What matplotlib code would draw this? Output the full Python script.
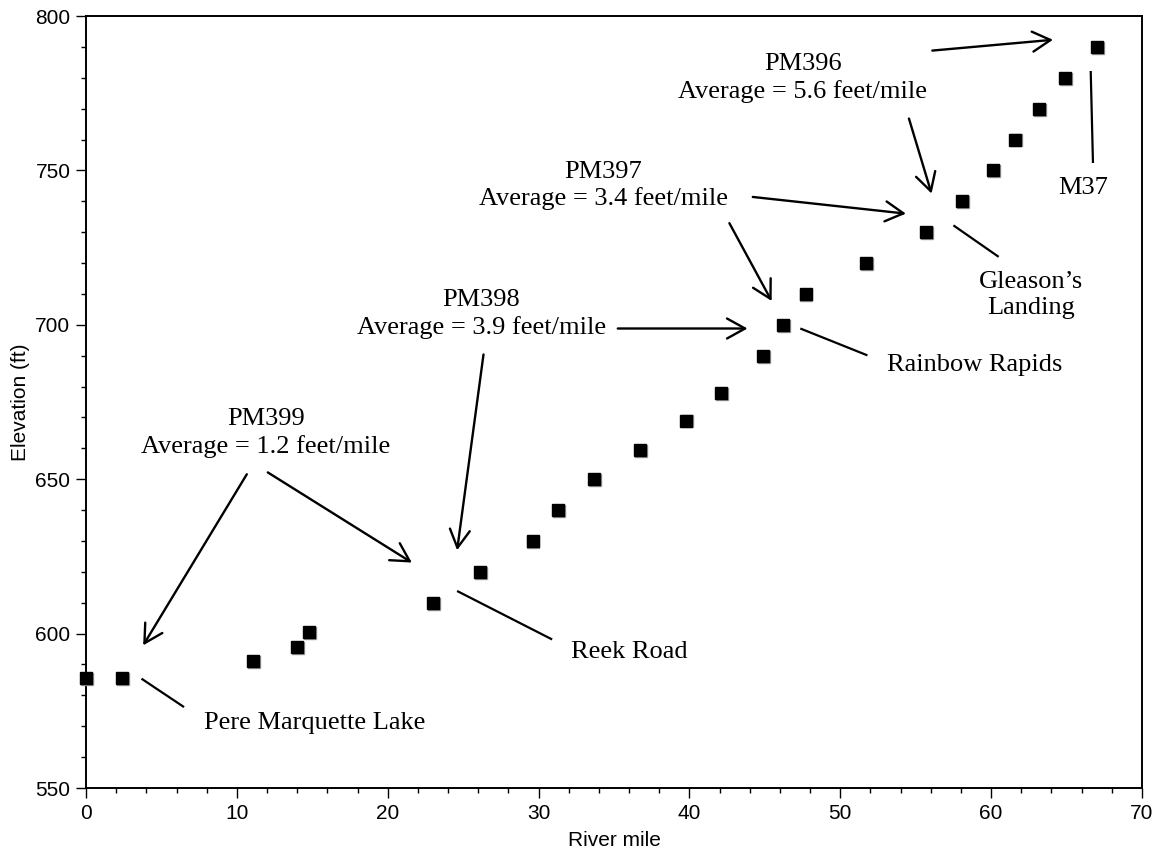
import matplotlib
matplotlib.use("Agg")
import matplotlib.pyplot as plt
from matplotlib.ticker import MultipleLocator
import matplotlib.transforms as mtransforms

# ---- data ----
river_mile = [0, 2.4, 11.1, 14.0, 14.8, 23.0, 26.1, 29.6, 31.3, 33.7, 36.7, 39.8,
              42.1, 44.9, 46.2, 47.7, 51.7, 55.7, 58.1, 60.1, 61.6, 63.2, 64.9, 67.0]
elevation = [585.5, 585.5, 591, 595.5, 600.5, 610, 620, 630, 640, 650, 659.5, 669,
             678, 690, 700, 710, 720, 730, 740, 750, 760, 770, 780, 790]

# segment annotations: text, text position, arrow start/end points
seg_texts = ["PM399\nAverage = 1.2 feet/mile",
             "PM398\nAverage = 3.9 feet/mile",
             "PM397\nAverage = 3.4 feet/mile",
             "PM396\nAverage = 5.6 feet/mile"]
seg_text_xy = [(11.92, 665.0), (26.2, 703.6), (34.3, 745.1), (47.5, 780.0)]
seg_arrows = [
    [((10.66, 651.6), (3.79, 596.2)), ((12.05, 652.2), (21.6, 623.0))],
    [((26.35, 690.4), (24.6, 627.0)), ((35.25, 698.8), (43.85, 698.8))],
    [((42.65, 732.9), (45.45, 707.7)), ((44.2, 741.4), (54.35, 736.0))],
    [((54.55, 766.8), (56.05, 742.5)), ((56.1, 788.8), (64.1, 792.3))],
]

site_names = ["Pere Marquette Lake", "Reek Road", "Rainbow Rapids",
              "Gleason\u2019s\nLanding", "M37"]
site_text_xy = [(15.14, 571.0), (36.03, 594.0), (53.07, 686.9), (62.65, 709.6), (66.13, 744.4)]
site_text_ha = ["center", "center", "left", "center", "center"]
site_leaders = [((3.68, 585.4), (6.5, 576.2)),
                ((24.6, 613.8), (30.9, 598.1)),
                ((47.35, 698.8), (51.8, 690.1)),
                ((57.5, 732.2), (60.5, 722.0)),
                ((66.6, 782.2), (66.75, 752.4))]

x_ticks = [0, 10, 20, 30, 40, 50, 60, 70]
y_ticks = [550, 600, 650, 700, 750, 800]

# ---- figure ----
fig = plt.figure(figsize=(11.62, 8.61), dpi=100)
ax = fig.add_axes([86 / 1162, 1 - 788 / 861, (1142 - 86) / 1162, (788 - 16) / 861])

sans = "Liberation Sans"
serif = "Liberation Serif"

# subtle shadow markers (offset ~1 px to lower right)
shadow = ax.transData + mtransforms.ScaledTranslation(0.9 / 100, -0.9 / 100, fig.dpi_scale_trans)
ax.plot(river_mile, elevation, linestyle="none", marker="s", ms=9.2, color="#9a9a9a",
        mec="#9a9a9a", transform=shadow, zorder=3, clip_on=False)
ax.plot(river_mile, elevation, linestyle="none", marker="s", ms=9.2, color="black",
        mec="black", zorder=4, clip_on=False)

ax.set_xlim(0, 70)
ax.set_ylim(550, 800)
ax.set_xticks(x_ticks)
ax.set_yticks(y_ticks)
ax.xaxis.set_minor_locator(MultipleLocator(2))
ax.yaxis.set_minor_locator(MultipleLocator(10))
ax.tick_params(which="major", direction="out", length=7.2, width=1.0, labelsize=15, pad=4)
ax.tick_params(which="minor", direction="out", length=3.6, width=1.0)
ax.tick_params(top=False, right=False, which="both")
for lab in ax.get_xticklabels() + ax.get_yticklabels():
    lab.set_fontfamily(sans)
for sp in ax.spines.values():
    sp.set_linewidth(1.4)

ax.set_xlabel("River mile", fontsize=15, fontfamily=sans, labelpad=6)
ax.set_ylabel("Elevation (ft)", fontsize=15, fontfamily=sans, labelpad=4)

arrowstyle = "->,head_length=0.65,head_width=0.36"
for txt, (tx, ty), arrows in zip(seg_texts, seg_text_xy, seg_arrows):
    ax.text(tx, ty, txt, ha="center", va="center", multialignment="center",
            fontsize=19, fontfamily=serif, linespacing=1.27, zorder=5)
    for (sx, sy), (ex, ey) in arrows:
        ax.annotate("", xy=(ex, ey), xytext=(sx, sy),
                    arrowprops=dict(arrowstyle=arrowstyle, lw=1.7, color="black",
                                    shrinkA=0, shrinkB=0, mutation_scale=20),
                    annotation_clip=False)

for name, (tx, ty), ha, ((sx, sy), (ex, ey)) in zip(site_names, site_text_xy, site_text_ha, site_leaders):
    ax.text(tx, ty, name, ha=ha, va="center", multialignment="center",
            fontsize=19, fontfamily=serif, linespacing=1.27, zorder=5)
    ax.plot([sx, ex], [sy, ey], color="black", lw=1.6, solid_capstyle="butt")

fig.savefig("out.png", dpi=100)
